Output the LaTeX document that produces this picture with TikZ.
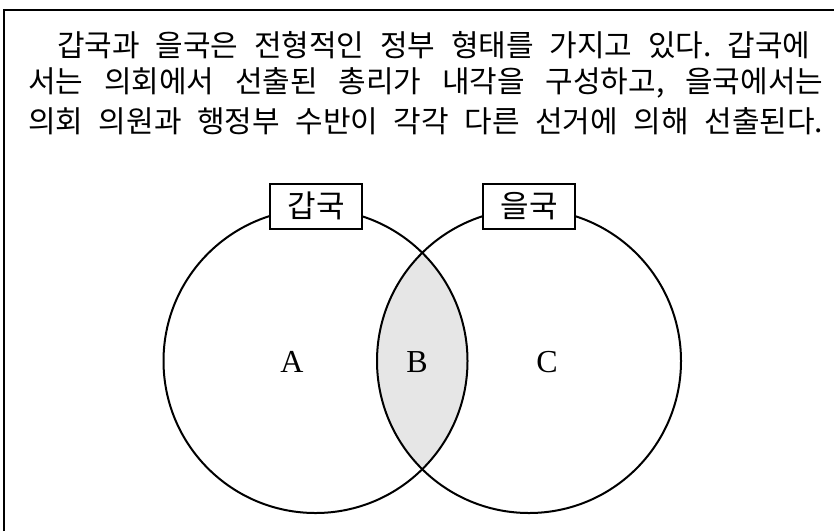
\documentclass[tikz,border=0pt]{standalone}
\usepackage{fontspec}
\setmainfont{Liberation Serif}
\newfontfamily\kr{Noto Sans CJK KR}
\frenchspacing
\tikzset{
  frame/.style={line width=1.6pt},
  ring/.style={line width=2pt},
  lbox/.style={draw, fill=white, line width=2pt, minimum width=92pt, minimum height=45pt, inner sep=0pt, font=\kr\fontsize{31pt}{34pt}\selectfont},
  txt/.style={anchor=west, inner sep=0pt, font=\kr\fontsize{30pt}{34pt}\selectfont},
  letter/.style={inner sep=0pt, font=\fontsize{32pt}{36pt}\selectfont}
}
\definecolor{lensgray}{HTML}{E6E6E6}
\begin{document}
\begin{tikzpicture}[x=1pt,y=-1pt]
\useasboundingbox (0,0) rectangle (834,531);
\draw[frame] (4,531) -- (4,10) -- (834,10);
\node[txt] (l1) at (57,45) {\makebox[753pt][s]{갑국과 을국은 전형적인 정부 형태를 가지고 있다. 갑국에}};
\node[txt] (l2) at (28,83) {\makebox[795pt][s]{서는 의회에서 선출된 총리가 내각을 구성하고, 을국에서는}};
\node[txt] (l3) at (28,121) {\makebox[795pt][s]{의회 의원과 행정부 수반이 각각 다른 선거에 의해 선출된다.}};
\coordinate (cg) at (315.5,361);
\coordinate (ce) at (529,361);
\begin{scope}
  \clip (cg) circle (152pt);
  \fill[lensgray] (ce) circle (152pt);
\end{scope}
\draw[ring] (cg) circle (152pt);
\draw[ring] (ce) circle (152pt);
\node[lbox] (lg) at (316,206) {갑국};
\node[lbox] (le) at (529,206) {을국};
\node[letter] (a) at (292,362) {A};
\node[letter] (b) at (417,362) {B};
\node[letter] (c) at (547,362) {C};
\end{tikzpicture}
\end{document}
